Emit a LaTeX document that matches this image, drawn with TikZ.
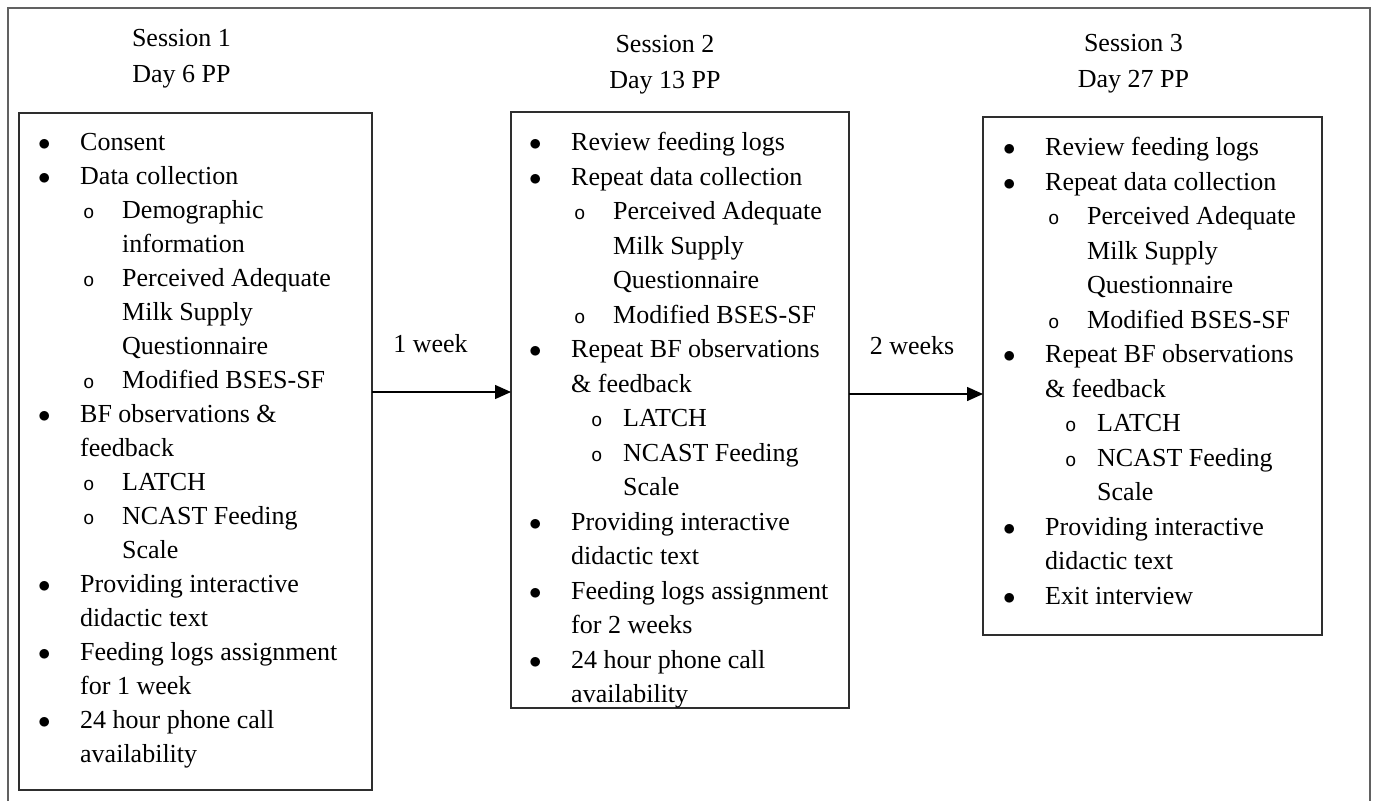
\documentclass[tikz,border=0pt]{standalone}
\usepackage{fontspec}
\setmainfont{Liberation Serif}
\newfontfamily\circfont{Liberation Mono}
\usetikzlibrary{positioning,arrows.meta}

% list indents
\newcommand{\mainbul}{\makebox[42pt][l]{$\bullet$}}
\newcommand{\mainind}{\makebox[42pt]{}}
\newcommand{\subbul}{\makebox[45pt]{}\makebox[39pt][l]{\circfont\fontsize{19}{19}\selectfont o}}
\newcommand{\subind}{\makebox[84pt]{}}
\newcommand{\deepbul}{\makebox[62pt]{}\makebox[32pt][l]{\circfont\fontsize{19}{19}\selectfont o}}
\newcommand{\deepind}{\makebox[94pt]{}}

\begin{document}
\begin{tikzpicture}
[x=1pt,y=-1pt,
 box/.style={draw=black!82,line width=2.4pt,rectangle,anchor=north west,inner sep=0pt,outer sep=0pt},
 list/.style={align=left,anchor=north west,inner sep=0pt,font=\fontsize{26}{#1}\selectfont},
 head/.style={align=center,anchor=south,inner sep=0pt,font=\fontsize{26}{36}\selectfont},
 gap/.style={anchor=base,inner sep=0pt,font=\fontsize{26}{30}\selectfont},
 arrow/.style={line width=1.4pt,-{Triangle[length=16pt,width=14pt]}}]
\useasboundingbox (0,0) rectangle (1375,801);
\draw[draw=black!62,line width=2pt] (8,801) |- (1370,8) -- (1370,801);

\node[box,minimum width=353pt,minimum height=677pt] (box1) at (19,113)  {};
\node[box,minimum width=338pt,minimum height=596pt] (box2) at (511,112) {};
\node[box,minimum width=339pt,minimum height=518pt] (box3) at (983,117) {};

\node[head] (head1) [above=25pt of box1.north,xshift=-14pt] {Session 1\\Day 6 PP};
\node[head] (head2) [above=18pt of box2.north,xshift=-15pt] {Session 2\\Day 13 PP};
\node[head] (head3) [above=24pt of box3.north,xshift=-19pt] {Session 3\\Day 27 PP};

\node[list=34] (list1) [below right=20pt and 19pt of box1.north west]
 {\mainbul Consent\\
  \mainbul Data collection\\
  \subbul Demographic\\
  \subind information\\
  \subbul Perceived Adequate\\
  \subind Milk Supply\\
  \subind Questionnaire\\
  \subbul Modified BSES-SF\\
  \mainbul BF observations \&\\
  \mainind feedback\\
  \subbul LATCH\\
  \subbul NCAST Feeding\\
  \subind Scale\\
  \mainbul Providing interactive\\
  \mainind didactic text\\
  \mainbul Feeding logs assignment\\
  \mainind for 1 week\\
  \mainbul 24 hour phone call\\
  \mainind availability};
\node[list=34.5] (list2) [below right=20pt and 18pt of box2.north west]
 {\mainbul Review feeding logs\\
  \mainbul Repeat data collection\\
  \subbul Perceived Adequate\\
  \subind Milk Supply\\
  \subind Questionnaire\\
  \subbul Modified BSES-SF\\
  \mainbul Repeat BF observations\\
  \mainind \& feedback\\
  \deepbul LATCH\\
  \deepbul NCAST Feeding\\
  \deepind Scale\\
  \mainbul Providing interactive\\
  \mainind didactic text\\
  \mainbul Feeding logs assignment\\
  \mainind for 2 weeks\\
  \mainbul 24 hour phone call\\
  \mainind availability};
\node[list=34.5] (list3) [below right=20pt and 20pt of box3.north west]
 {\mainbul Review feeding logs\\
  \mainbul Repeat data collection\\
  \subbul Perceived Adequate\\
  \subind Milk Supply\\
  \subind Questionnaire\\
  \subbul Modified BSES-SF\\
  \mainbul Repeat BF observations\\
  \mainind \& feedback\\
  \deepbul LATCH\\
  \deepbul NCAST Feeding\\
  \deepind Scale\\
  \mainbul Providing interactive\\
  \mainind didactic text\\
  \mainbul Exit interview};

\draw[arrow] ([yshift=59.5pt]box1.east) -- ([yshift=18pt]box2.west)
  node[gap,midway,yshift=40pt,xshift=-11pt] (gap1) {1 week};
\draw[arrow] ([yshift=16pt]box2.east) -- ([yshift=-18pt]box3.west)
  node[gap,midway,yshift=40pt,xshift=-4pt] (gap2) {2 weeks};
\end{tikzpicture}
\end{document}
